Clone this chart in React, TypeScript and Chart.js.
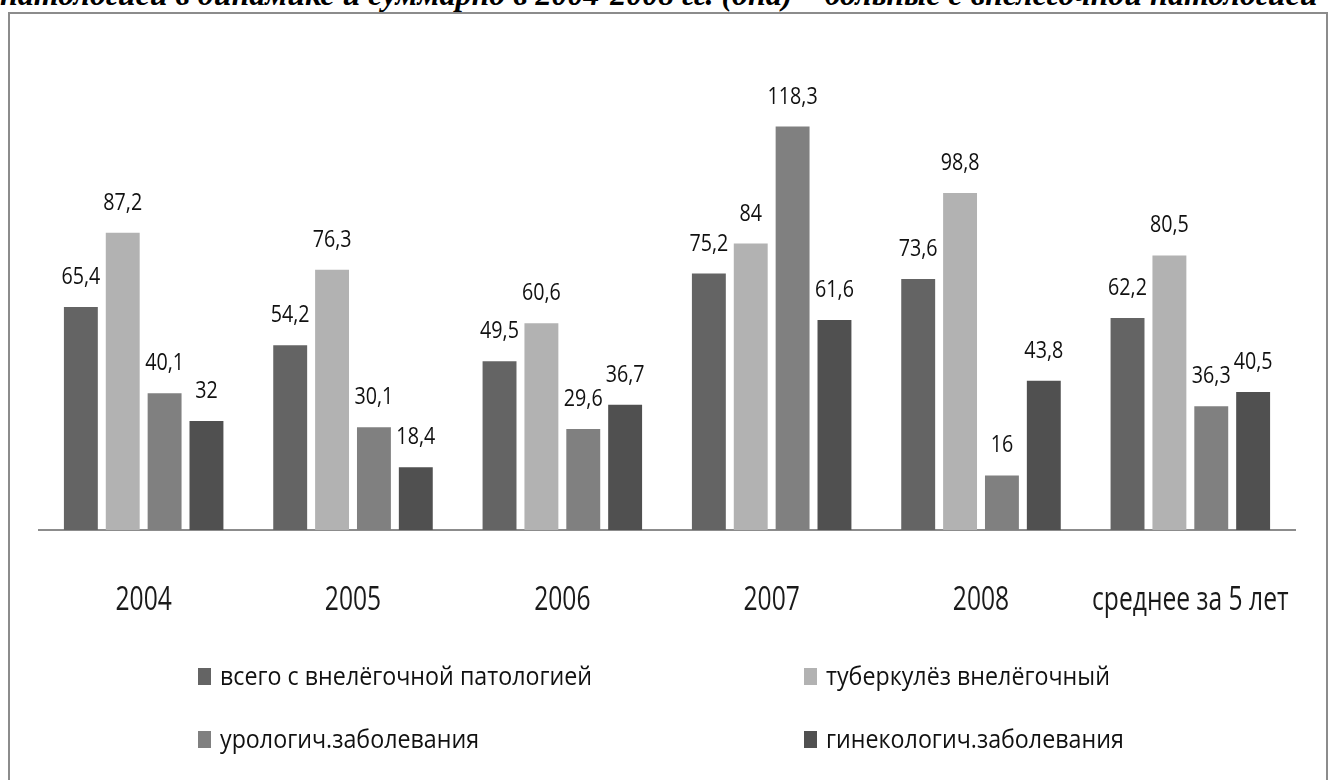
import React, { useEffect, useRef } from "react";
import { Chart, registerables } from "chart.js";

Chart.register(...registerables);

const categories = ["2004", "2005", "2006", "2007", "2008", "среднее за 5 лет"];
const seriesNames = [
  "всего с внелёгочной патологией",
  "туберкулёз внелёгочный",
  "урологич.заболевания",
  "гинекологич.заболевания",
];
const totalExtra = [65.4, 54.2, 49.5, 75.2, 73.6, 62.2];
const tbExtra = [87.2, 76.3, 60.6, 84, 98.8, 80.5];
const uro = [40.1, 30.1, 29.6, 118.3, 16, 36.3];
const gyn = [32, 18.4, 36.7, 61.6, 43.8, 40.5];
const colors = ["#646464", "#b2b2b2", "#808080", "#505050"];
const titleText =
  "патологией в динамике и суммарно в 2004-2008 гг. (опа) – больные с внелёгочной патологией";

const FONT = "'Open Sans', 'Noto Sans', sans-serif";

function drawCondensed(ctx: any, text: string, x: number, y: number, sx: number, align: string) {
  ctx.save();
  ctx.translate(x, y);
  ctx.scale(sx, 1);
  ctx.textAlign = align;
  ctx.fillText(text, 0, 0);
  ctx.restore();
}

const labelPlugin = {
  id: "valueLabels",
  afterDatasetsDraw(chart: any) {
    const ctx = chart.ctx;
    ctx.save();
    ctx.fillStyle = "#111";
    ctx.font = `24px ${FONT}`;
    ctx.textBaseline = "alphabetic";
    chart.data.datasets.forEach((ds: any, i: number) => {
      const meta = chart.getDatasetMeta(i);
      meta.data.forEach((bar: any, j: number) => {
        const txt = String(ds.data[j]).replace(".", ",");
        drawCondensed(ctx, txt, bar.x, bar.y - 23, 0.82, "center");
      });
    });
    ctx.restore();
  },
};

const tickPlugin = {
  id: "condensedTicks",
  afterDraw(chart: any) {
    const ctx = chart.ctx;
    const scale = chart.scales.x;
    ctx.save();
    ctx.fillStyle = "#1a1a1a";
    ctx.font = `32px ${FONT}`;
    ctx.textBaseline = "middle";
    scale.ticks.forEach((t: any, i: number) => {
      const x = scale.getPixelForTick(i);
      drawCondensed(ctx, String(t.label), x, 601, 0.77, "center");
    });
    ctx.restore();
  },
};

const legendPlugin = {
  id: "gridLegend",
  afterDraw(chart: any) {
    const ctx = chart.ctx;
    ctx.save();
    ctx.font = `25px ${FONT}`;
    ctx.textBaseline = "alphabetic";
    const cols = [198, 804];
    const rows = [685, 748];
    chart.data.datasets.forEach((ds: any, i: number) => {
      const x = cols[i % 2];
      const y = rows[Math.floor(i / 2)];
      ctx.fillStyle = ds.backgroundColor;
      ctx.fillRect(x, y - 17, 13, 17);
      ctx.fillStyle = "#111";
      drawCondensed(ctx, ds.label, x + 22, y, 0.93, "left");
    });
    ctx.restore();
  },
};

export default function App() {
  const ref = useRef<HTMLCanvasElement>(null);
  useEffect(() => {
    const datasets = [totalExtra, tbExtra, uro, gyn].map((d, i) => ({
      label: seriesNames[i],
      data: d,
      backgroundColor: colors[i],
      borderWidth: 0,
      categoryPercentage: 0.8,
      barPercentage: 0.81,
    }));
    const chart = new Chart(ref.current as HTMLCanvasElement, {
      type: "bar",
      data: { labels: categories, datasets },
      options: {
        responsive: false,
        animation: false,
        layout: { padding: { left: 39, right: 36, top: 71, bottom: 0 } },
        plugins: { legend: { display: false }, tooltip: { enabled: false } },
        scales: {
          y: { display: false, min: 0, max: 134.6 },
          x: {
            grid: { display: false, drawTicks: false },
            border: { display: true, color: "#8c8c8c", width: 2 },
            ticks: { display: false, autoSkip: false, maxRotation: 0 },
            afterFit(scale: any) {
              scale.height = 250;
              scale.paddingLeft = 0;
              scale.paddingRight = 0;
            },
          },
        },
      },
      plugins: [labelPlugin, tickPlugin, legendPlugin],
    });
    return () => chart.destroy();
  }, []);

  return (
    <div style={{ position: "absolute", left: 0, top: 0, width: 1331, height: 780, overflow: "hidden", background: "#fff" }}>
      <div
        style={{
          position: "absolute",
          left: 0,
          top: -24,
          whiteSpace: "nowrap",
          fontFamily: "'Liberation Serif', serif",
          fontWeight: "bold",
          fontStyle: "italic",
          fontSize: 32,
          lineHeight: "36px",
          color: "#000",
        }}
      >
        {titleText}
      </div>
      <div
        style={{
          position: "absolute",
          left: 8,
          top: 12,
          width: 1320,
          height: 800,
          border: "2px solid #8c8c8c",
          boxSizing: "border-box",
          background: "#fff",
        }}
      />
      <canvas
        ref={ref}
        width={1331}
        height={780}
        style={{ position: "absolute", left: 0, top: 0, width: 1331, height: 780 }}
      />
    </div>
  );
}
